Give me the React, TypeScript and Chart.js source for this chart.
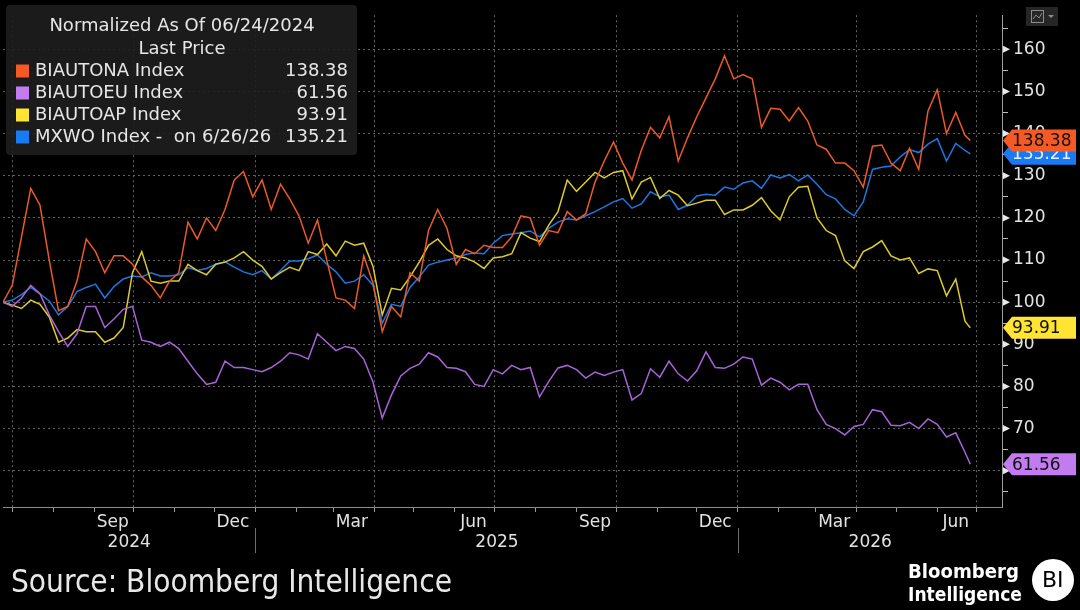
import { useEffect, useRef } from 'react';
import { Chart, registerables } from 'chart.js';

Chart.register(...registerables);

// weekly points from the normalisation date, the last one is 6/26/26
const startDate = '2024-06-24';
const stepDays = 7;
const lastDate = '2026-06-26';

const seriesNames = ['BIAUTONA Index', 'BIAUTOEU Index', 'BIAUTOAP Index', 'MXWO Index -  on 6/26/26'];
const lastPrices = ['138.38', '61.56', '93.91', '135.21'];

const biautona = [
  100, 104, 115.5, 127, 123, 110, 98, 99, 105, 115, 112, 107, 111, 111, 109, 106, 104, 101, 105, 107,
  119, 115, 120, 117, 122, 129, 131, 125, 129, 122, 128, 124.5, 120.5, 114, 119.5, 110, 101, 100.5, 98.5, 111,
  104.5, 93, 99, 96.5, 107, 105, 117, 122, 117.5, 109, 112.5, 111.5, 113.5, 113, 113, 115.5, 120.5, 120, 113.5, 117,
  116.5, 121.5, 119.5, 121, 128.5, 133.5, 138, 133, 129, 136, 141.5, 139, 144, 133.5, 139, 144, 148.5, 153, 158.5, 153,
  154, 153, 141.5, 146, 145.8, 143, 146.2, 143, 137.3, 136.3, 133, 133, 131.2, 127.3, 137, 137.3, 133, 131.2, 136.5, 131.5,
  145.4, 150.4, 140, 145, 139.6, 138.38,
];

const biautoeu = [
  100, 99, 101, 104, 102, 97, 93, 89.5, 92.5, 99, 99, 94, 96, 98.3, 99, 91, 90.5, 89.5, 90.5, 89,
  86, 83, 80.5, 81, 86, 84.5, 84.5, 84, 83.5, 84.5, 86, 88, 87.5, 86.5, 92.5, 90.5, 88.5, 89.5, 89, 86.5,
  81, 72.5, 78, 82.5, 84.3, 85.3, 88, 87, 84.5, 84.3, 83.5, 80.5, 80, 84, 83, 85, 84, 84.5, 77.5, 81.2,
  84.4, 85, 84, 82, 83.4, 82.6, 83.4, 84, 76.8, 78.3, 84.2, 82.2, 86, 83, 81.3, 83.7, 88.2, 84.5, 84.3, 85.3,
  87, 86.5, 80.3, 82, 81, 79.2, 80.5, 80.5, 74.5, 71, 70, 68.5, 70.5, 71, 74.5, 74, 70.8, 70.7, 71.5, 70,
  72.3, 71, 68, 69, 64.4, 61.56,
];

const biautoap = [
  100, 99.3, 98.5, 100.5, 99.5, 96.5, 90.5, 91.5, 93.5, 93, 93, 90.5, 91.5, 94, 107, 112, 105, 104.5, 105, 105,
  109, 107.5, 106.5, 109, 109.5, 110.5, 112, 110, 108.5, 105.5, 107, 108.3, 107.5, 112, 111.3, 113.8, 111, 114.5, 113.5, 114,
  108.5, 97, 103.3, 102.9, 106, 109.5, 113.5, 115, 112.5, 111, 110.5, 109.5, 108, 110.5, 110.8, 111.5, 116.5, 115.2, 114.4, 118.3,
  121.5, 129, 126.3, 128.5, 130.8, 129.5, 130.8, 131.2, 124.5, 128.5, 129.6, 124.6, 126.5, 125.4, 122.9, 123.5, 124.2, 124.2, 120.8, 121.9,
  121.9, 123, 124.8, 121.7, 119.5, 125, 127.3, 127.5, 120, 117, 115.8, 109.8, 108, 112, 113.1, 114.6, 111, 110, 110.5, 106.8,
  107.9, 107.5, 101.5, 105.5, 95.5, 93.91,
];

const mxwo = [
  100, 100.5, 101.8, 103.5, 102, 100.3, 97, 99, 102.5, 103.5, 104.3, 101, 103.7, 105.5, 106.2, 106, 107, 106.2, 106.2, 106.5,
  108.2, 107.5, 108, 109, 109.6, 108.3, 107.2, 106.5, 107.5, 105.5, 107.5, 109.8, 109.8, 110.3, 111.2, 109, 107.2, 104.5, 105, 106.5,
  104, 95, 99.5, 99, 103.5, 106, 108.8, 109.5, 110, 110.5, 111.3, 111.7, 111.5, 114, 115.8, 116.2, 116.5, 116.9, 115.5, 117.5,
  119, 119.8, 119.5, 120.5, 121.5, 122.6, 123.8, 124.6, 122.3, 123.3, 126.2, 125, 125.4, 122, 123, 125.2, 125.6, 125.4, 127.3, 126.8,
  128.3, 128.8, 127, 130.2, 129.5, 130.3, 128.8, 130.2, 128, 125.5, 124.5, 122, 120.5, 123.8, 131.5, 132, 132.3, 134.5, 136.2, 135.5,
  137.5, 138.8, 133.5, 137.7, 136, 135.21,
];

const lineColors = ['#ec5a26', '#a963d8', '#ddcb2c', '#1c78e2'];
const tagColors = ['#f65a24', '#c27cf0', '#ffe433', '#1a7af2'];
const tagTextColors = ['#101010', '#101010', '#101010', '#e6efff'];

const quarterDates = ['2024-07-01', '2024-10-01', '2025-01-01', '2025-04-01', '2025-07-01', '2025-10-01', '2026-01-01', '2026-04-01', '2026-07-01'];
const monthLabelDates = ['2024-09-15', '2024-12-15', '2025-03-15', '2025-06-15', '2025-09-15', '2025-12-15', '2026-03-15', '2026-06-15'];
const monthLabelTexts = ['Sep', 'Dec', 'Mar', 'Jun', 'Sep', 'Dec', 'Mar', 'Jun'];
const yearStartDates = ['2025-01-01', '2026-01-01'];
const yearLabels = ['2024', '2025', '2026'];
const yMajorTicks = [60, 70, 80, 90, 100, 110, 120, 130, 140, 150, 160];

const FONT = "'DejaVu Sans', 'Liberation Sans', sans-serif";
const X_MAX = 756;

const dayOf = (s: string) => {
  const [y, m, d] = s.split('-').map(Number);
  const [y0, m0, d0] = startDate.split('-').map(Number);
  return Math.round((Date.UTC(y, m - 1, d) - Date.UTC(y0, m0 - 1, d0)) / 86400000);
};

const pointDays = biautona.map((_, i) => (i === biautona.length - 1 ? dayOf(lastDate) : i * stepDays));
const toPoints = (vals: number[]) => vals.map((v, i) => ({ x: pointDays[i], y: v }));

const quarterDays = quarterDates.map(dayOf);
const labelDays = monthLabelDates.map(dayOf);
const monthStartDays: number[] = [];
for (let y = 2024; y <= 2026; y++) {
  for (let m = 1; m <= 12; m++) {
    const s = `${y}-${String(m).padStart(2, '0')}-01`;
    const d = dayOf(s);
    if (d >= 0 && d <= X_MAX) monthStartDays.push(d);
  }
}
const xTickDays = [...monthStartDays, ...labelDays].sort((a, b) => a - b);
const yTickValues: number[] = [];
for (let v = 55; v <= 165; v += 5) yTickValues.push(v);

// draws text squeezed to a given width (the Bloomberg face is narrower than DejaVu)
const fitText = (ctx: CanvasRenderingContext2D, text: string, x: number, y: number, width: number) => {
  const w = ctx.measureText(text).width;
  ctx.save();
  ctx.translate(x, y);
  ctx.scale(Math.min(1, width / w), 1);
  ctx.fillText(text, 0, 0);
  ctx.restore();
};

const overlay = {
  id: 'overlay',
  beforeDraw(chart: Chart) {
    const { ctx, width, height } = chart;
    ctx.save();
    ctx.fillStyle = '#000';
    ctx.fillRect(0, 0, width, height);
    ctx.restore();
  },
  afterDraw(chart: Chart) {
    const { ctx, chartArea: area } = chart;
    const xs = chart.scales.x;
    const ys = chart.scales.y;
    ctx.save();

    // arrow heads on the major y ticks
    ctx.fillStyle = '#e8e8e8';
    yMajorTicks.forEach((v) => {
      const py = ys.getPixelForValue(v);
      ctx.beginPath();
      ctx.moveTo(area.right + 1, py - 3.5);
      ctx.lineTo(area.right + 8, py);
      ctx.lineTo(area.right + 1, py + 3.5);
      ctx.closePath();
      ctx.fill();
    });

    // years under the month labels
    ctx.strokeStyle = '#6e6e6e';
    ctx.lineWidth = 1;
    const sepX = yearStartDates.map((d) => Math.round(xs.getPixelForValue(dayOf(d))) + 0.5);
    sepX.forEach((px) => {
      ctx.beginPath();
      ctx.moveTo(px, 528);
      ctx.lineTo(px, 553);
      ctx.stroke();
    });
    const bounds = [area.left, ...sepX, area.right];
    ctx.fillStyle = '#e2e2e2';
    ctx.font = `17px ${FONT}`;
    ctx.textAlign = 'center';
    ctx.textBaseline = 'middle';
    yearLabels.forEach((t, i) => ctx.fillText(t, (bounds[i] + bounds[i + 1]) / 2, 543));

    // legend box
    ctx.fillStyle = 'rgba(30,30,30,0.9)';
    ctx.beginPath();
    ctx.roundRect(6, 5, 351, 150, 4);
    ctx.fill();
    ctx.fillStyle = '#e6e6e6';
    ctx.font = `18px ${FONT}`;
    ctx.textAlign = 'center';
    ctx.fillText('Normalized As Of 06/24/2024', 182, 26);
    ctx.fillText('Last Price', 182, 49);
    seriesNames.forEach((name, i) => {
      const ry = 71 + i * 22;
      ctx.fillStyle = tagColors[i];
      ctx.fillRect(16, ry - 6.5, 13, 13);
      ctx.fillStyle = '#e6e6e6';
      ctx.textAlign = 'left';
      ctx.fillText(name, 35, ry);
      ctx.textAlign = 'right';
      ctx.fillText(lastPrices[i], 348, ry);
    });

    // last value tags on the axis, orange on top
    const tagOrder = [1, 2, 3, 0];
    ctx.font = `17px ${FONT}`;
    ctx.textAlign = 'left';
    tagOrder.forEach((i) => {
      const py = ys.getPixelForValue(Number(lastPrices[i]));
      const x0 = area.right + 1;
      ctx.fillStyle = tagColors[i];
      ctx.beginPath();
      ctx.moveTo(x0, py);
      ctx.lineTo(x0 + 9, py - 11);
      ctx.lineTo(1076, py - 11);
      ctx.lineTo(1076, py + 11);
      ctx.lineTo(x0 + 9, py + 11);
      ctx.closePath();
      ctx.fill();
      ctx.fillStyle = tagTextColors[i];
      ctx.fillText(lastPrices[i], 1012, py + 1);
    });

    // source line
    ctx.fillStyle = '#e8e8e8';
    ctx.font = `32px ${FONT}`;
    ctx.textAlign = 'left';
    ctx.textBaseline = 'alphabetic';
    fitText(ctx, 'Source: Bloomberg Intelligence', 11, 592, 441);

    // Bloomberg Intelligence mark
    ctx.fillStyle = '#ffffff';
    ctx.font = `bold 20px ${FONT}`;
    fitText(ctx, 'Bloomberg', 908, 578, 111);
    fitText(ctx, 'Intelligence', 908, 601, 114);
    ctx.beginPath();
    ctx.arc(1053, 580, 21, 0, Math.PI * 2);
    ctx.fill();
    ctx.fillStyle = '#000';
    ctx.font = `22px ${FONT}`;
    ctx.textBaseline = 'middle';
    fitText(ctx, 'BI', 1042, 581, 22);

    // chart type button, top right
    ctx.fillStyle = '#262626';
    ctx.fillRect(1026, 7, 32, 19);
    ctx.strokeStyle = '#8c8c8c';
    ctx.strokeRect(1031.5, 10.5, 12, 12);
    ctx.beginPath();
    ctx.moveTo(1033, 19);
    ctx.lineTo(1036, 15);
    ctx.lineTo(1039, 18);
    ctx.lineTo(1042, 13);
    ctx.stroke();
    ctx.fillStyle = '#8c8c8c';
    ctx.beginPath();
    ctx.moveTo(1048, 15);
    ctx.lineTo(1054, 15);
    ctx.lineTo(1051, 18);
    ctx.closePath();
    ctx.fill();

    ctx.restore();
  },
};

const App: React.FC = () => {
  const ref = useRef<HTMLCanvasElement>(null);
  const chartInstance = useRef<Chart | null>(null);

  useEffect(() => {
    if (!ref.current) return;
    if (chartInstance.current) chartInstance.current.destroy();

    const seriesValues = [biautona, biautoeu, biautoap, mxwo];
    chartInstance.current = new Chart(ref.current, {
      type: 'line',
      data: {
        datasets: seriesValues.map((vals, i) => ({
          label: seriesNames[i],
          data: toPoints(vals),
          borderColor: lineColors[i],
          borderWidth: 1.5,
          pointRadius: 0,
          tension: 0,
          fill: false,
        })),
      },
      options: {
        responsive: false,
        animation: false,
        events: [],
        layout: { padding: { left: 3, top: 5, right: 0, bottom: 0 } },
        plugins: { legend: { display: false }, tooltip: { enabled: false } },
        scales: {
          x: {
            type: 'linear',
            min: 0,
            max: X_MAX,
            afterBuildTicks: (scale: any) => {
              scale.ticks = xTickDays.map((d) => ({ value: d }));
            },
            afterFit: (scale: any) => {
              scale.height = 103;
            },
            grid: {
              color: (c: any) => (c.tick && quarterDays.includes(c.tick.value) ? '#626262' : 'transparent'),
              tickColor: (c: any) => (c.tick && monthStartDays.includes(c.tick.value) ? '#9a9a9a' : 'transparent'),
              tickLength: 5,
              lineWidth: 1,
            },
            border: { display: true, color: '#8a8a8a', dash: [2, 3] },
            ticks: {
              autoSkip: false,
              maxRotation: 0,
              minRotation: 0,
              padding: 0,
              color: '#e2e2e2',
              font: { family: FONT, size: 17 },
              callback: (v: any) => {
                const i = labelDays.indexOf(Number(v));
                return i >= 0 ? monthLabelTexts[i] : '';
              },
            },
          },
          y: {
            type: 'linear',
            position: 'right',
            min: 51.4,
            max: 168.1,
            afterBuildTicks: (scale: any) => {
              scale.ticks = yTickValues.map((v) => ({ value: v }));
            },
            afterFit: (scale: any) => {
              scale.width = 78;
            },
            grid: {
              color: (c: any) => (c.tick && c.tick.value % 10 === 0 ? '#626262' : 'transparent'),
              tickColor: (c: any) => (c.tick && c.tick.value % 10 !== 0 ? '#bdbdbd' : 'transparent'),
              tickLength: 6,
              lineWidth: 1,
            },
            border: { display: true, color: '#a0a0a0', dash: [2, 3] },
            ticks: {
              autoSkip: false,
              padding: 5,
              color: '#e2e2e2',
              font: { family: FONT, size: 17 },
              callback: (v: any) => (Number(v) % 10 === 0 ? String(v) : ''),
            },
          },
        },
      },
      plugins: [overlay],
    });

    return () => {
      if (chartInstance.current) {
        chartInstance.current.destroy();
        chartInstance.current = null;
      }
    };
  }, []);

  return (
    <div style={{ position: 'fixed', left: 0, top: 0, width: 1080, height: 610, background: '#000' }}>
      <canvas ref={ref} width={1080} height={610} style={{ display: 'block' }}></canvas>
    </div>
  );
};

export default App;
